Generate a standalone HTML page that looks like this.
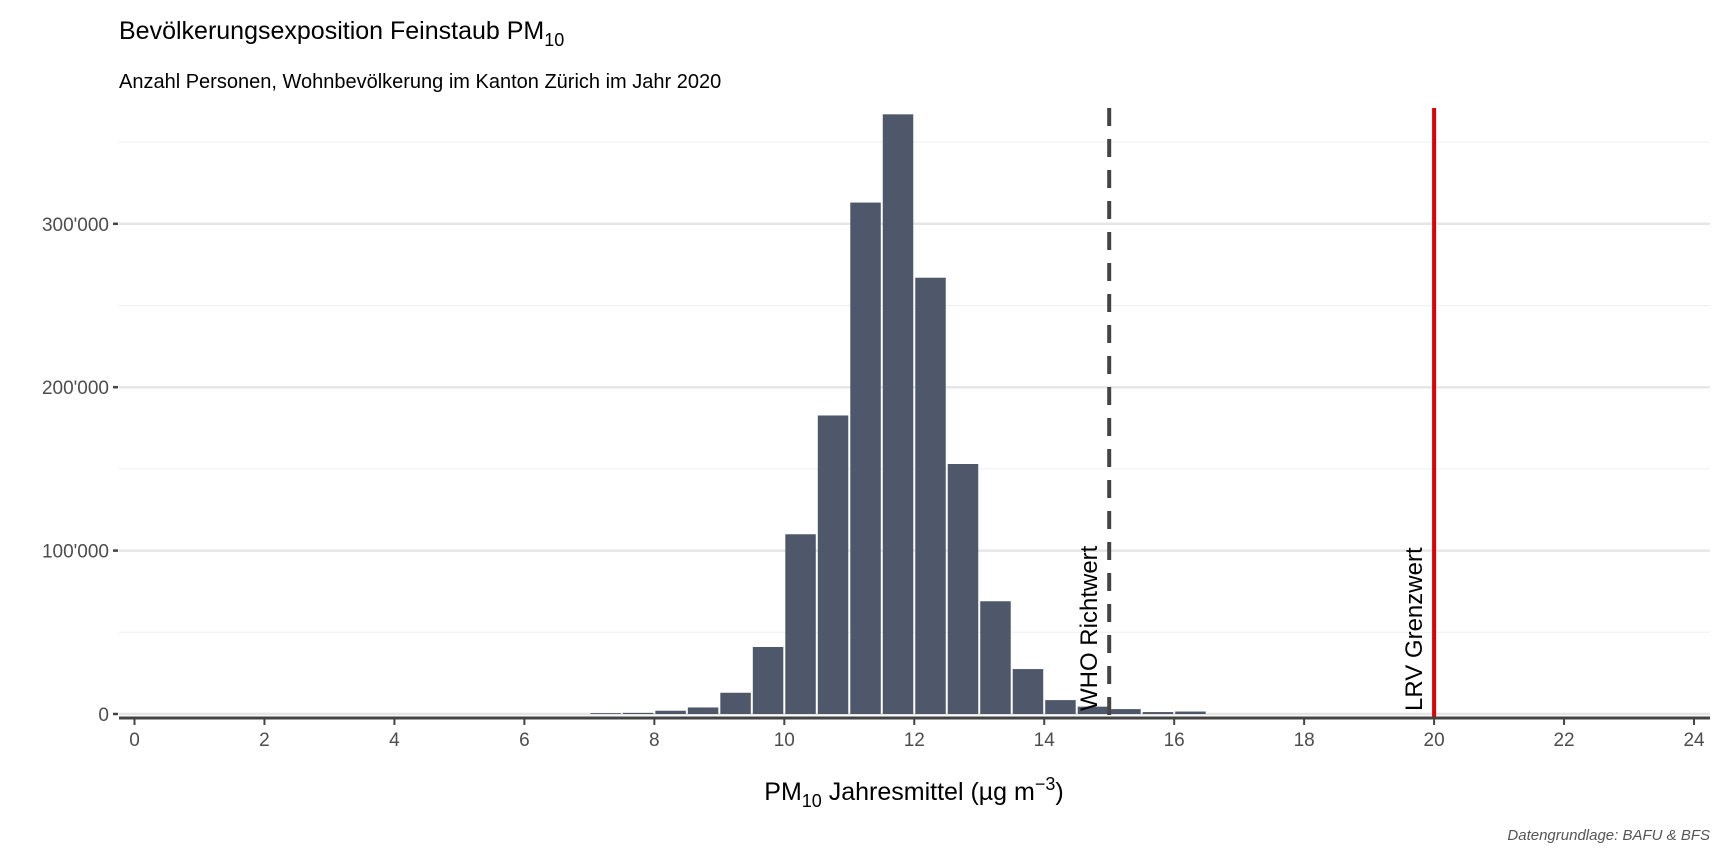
<!DOCTYPE html>
<html><head><meta charset="utf-8"><style>
html,body{margin:0;padding:0;background:#fff;}
svg{display:block;font-family:"Liberation Sans",Arial,sans-serif;}
</style></head><body>
<svg id="chart" width="1728" height="864" viewBox="0 0 1728 864">
<text x="119" y="39" font-size="25" fill="#000">Bevölkerungsexposition Feinstaub PM<tspan font-size="18" dy="7">10</tspan></text>
<text x="119" y="88" font-size="20" fill="#000">Anzahl Personen, Wohnbevölkerung im Kanton Zürich im Jahr 2020</text>
<g id="grid"></g>
<g id="bars"></g>
<g id="refs"></g>
<g id="axes"></g>
<text x="914" y="800" font-size="25" text-anchor="middle" fill="#000">PM<tspan font-size="18" dy="7">10</tspan><tspan dy="-7"> Jahresmittel (µg m</tspan><tspan font-size="18" dy="-10">−3</tspan><tspan dy="10">)</tspan></text>
<text x="1710" y="840" font-size="15" font-style="italic" text-anchor="end" fill="#555">Datengrundlage: BAFU &amp; BFS</text>
</svg>
<script>
const binStarts = [7.0,7.5,8.0,8.5,9.0,9.5,10.0,10.5,11.0,11.5,12.0,12.5,13.0,13.5,14.0,14.5,15.0,15.5,16.0];
const counts = [500,700,2000,4000,13000,41000,110000,182700,313000,367000,267000,153000,69000,27500,8500,4500,3000,1200,1500];
const xTicks = [0,2,4,6,8,10,12,14,16,18,20,22,24];
const yTicks = [0,100000,200000,300000];
const yTickLabels = ["0","100'000","200'000","300'000"];
const yMinor = [50000,150000,250000,350000];
const refValues = [15,20];
const refLabels = ["WHO Richtwert","LRV Grenzwert"];
const binWidth = 0.5;

const NS="http://www.w3.org/2000/svg";
const L=119,R=1710,T=108,B=718;
function xs(v){return 134.5+v*64.98;}
function ys(v){return 714-v*0.001634;}
function mk(tag,attrs,parent){const e=document.createElementNS(NS,tag);for(const k in attrs)e.setAttribute(k,attrs[k]);parent.appendChild(e);return e;}
const grid=document.getElementById('grid'),bars=document.getElementById('bars'),refs=document.getElementById('refs'),axes=document.getElementById('axes');
yMinor.forEach(v=>{const l=mk('line',{x1:L,x2:R,y1:ys(v),y2:ys(v),stroke:'#efefef','stroke-width':1},grid);

});
yTicks.forEach((v,i)=>{const l=mk('line',{x1:L,x2:R,y1:ys(v),y2:ys(v),stroke:'#e6e6e6','stroke-width':2.5},grid);


const t=mk('line',{x1:L-6,x2:L-1,y1:ys(v),y2:ys(v),stroke:'#444','stroke-width':2.5},axes);


const tx=mk('text',{x:L-10,y:ys(v)+7,'font-size':19,'text-anchor':'end',fill:'#4d4d4d'},axes);tx.textContent=yTickLabels[i];

});
binStarts.forEach((s,i)=>{const x0=xs(s)+1,x1=xs(s+binWidth)-1;const r=mk('rect',{x:x0,y:ys(counts[i]),width:x1-x0,height:ys(0)-ys(counts[i]),fill:'#4f586a'},bars);

});
// WHO
const w=mk('line',{x1:xs(refValues[0]),x2:xs(refValues[0]),y1:T,y2:B,stroke:'#444','stroke-width':4,'stroke-dasharray':'18,13'},refs);


const r2=mk('line',{x1:xs(refValues[1]),x2:xs(refValues[1]),y1:T,y2:B,stroke:'#e00000','stroke-width':4},refs);


refValues.forEach((v,i)=>{const x=xs(v)-12,y=711;const t=mk('text',{x:x,y:y,'font-size':24,fill:'#000',transform:'rotate(-90 '+x+' '+y+')'},refs);t.textContent=refLabels[i];

});
const ax=mk('line',{x1:L,x2:R,y1:B,y2:B,stroke:'#444','stroke-width':3},axes);


xTicks.forEach(v=>{const t=mk('line',{x1:xs(v),x2:xs(v),y1:B,y2:B+7,stroke:'#444','stroke-width':2},axes);


const tx=mk('text',{x:xs(v),y:B+28,'font-size':19,'text-anchor':'middle',fill:'#4d4d4d'},axes);tx.textContent=v;

});
</script>
</body></html>
